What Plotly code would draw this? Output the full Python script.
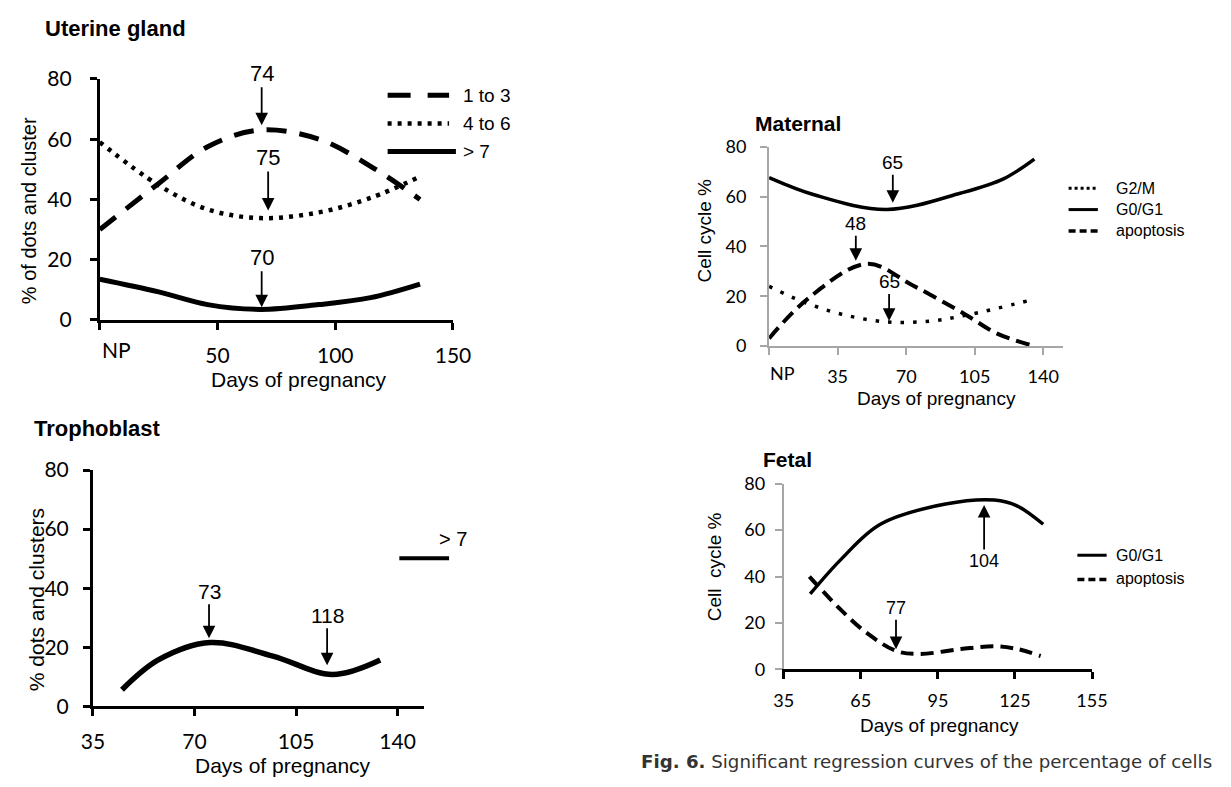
import plotly.graph_objects as go

W, H = 1231, 787

# ---------------- data ----------------
# Uterine gland (days, % of dots and cluster)
ug_days = [0, 25, 45.8, 68, 93, 115, 136]
ug_1to3 = [30, 45.3, 57.5, 63, 60, 51, 40]
ug_4to6 = [59, 44.7, 36.7, 33.8, 35.7, 40.5, 47.6]
ug_gt7 = [13.5, 9.3, 5.1, 3.5, 5.1, 7.4, 11.9]

# Trophoblast
tr_days = [45, 57.5, 75.4, 97, 117.6, 134]
tr_gt7 = [5.6, 15.7, 21.6, 17, 10.8, 15.7]

# Maternal
ma_g0g1_days = [0, 23.4, 60, 98, 120, 135.5]
ma_g0g1 = [67.6, 60.6, 54.8, 61.4, 67.2, 75]
ma_g2m_days = [0, 17, 37, 60, 83, 103, 133]
ma_g2m = [24, 17.9, 12.8, 9.7, 10.1, 12.8, 18.3]
ma_apo_days = [0, 20.4, 50, 73, 100, 116.5, 135.5]
ma_apo = [3.1, 19.4, 33, 24.5, 12.8, 5, 0]

# Fetal
fe_g0g1_days = [45.3, 57.4, 72.6, 98, 117, 125.8, 136]
fe_g0g1 = [32.5, 47.5, 62.5, 71.2, 72.9, 70.4, 62.5]
fe_apo_days = [45, 56.3, 67.7, 79, 88, 104, 117, 126, 135]
fe_apo = [40, 26.7, 15.4, 7.9, 6.7, 8.8, 10, 8.8, 5.8]

# peak / trough markers: (label, day, value)
ug_marks = [("74", 68.75, 64.6), ("75", 71.5, 36.3), ("70", 68.75, 4.2)]
tr_marks = [("73", 75.0, 23.0), ("118", 115.7, 13.9)]
ma_marks = [("65", 63.2, 57.5), ("48", 44.3, 34.2), ("65", 61.3, 10.1)]
fe_marks = [("104", 113.0, 70.8), ("77", 78.7, 8.75)]

y_ticks = [0, 20, 40, 60, 80]
ug_xticks = [0, 50, 100, 150]
tr_xticks = [35, 70, 105, 140]
ma_xticks = [0, 35, 70, 105, 140]
fe_xticks = [35, 65, 95, 125, 155]

# ---------------- helpers ----------------
def PX(x):
    return x / W

def PY(y):
    return 1 - y / H

TICKFONT_BIG = dict(family="Lato", size=21, color="black")
TICKFONT_SM = dict(family="Lato", size=18, color="black")
TXT = "Liberation Sans"

fig = go.Figure()

def line(x, y, xa, ya, width, dash="solid"):
    fig.add_trace(go.Scatter(
        x=x, y=y, xaxis=xa, yaxis=ya, mode="lines",
        line=dict(color="black", width=width, dash=dash, shape="spline", smoothing=1.0),
        showlegend=False, hoverinfo="skip", cliponaxis=False))

line(ug_days, ug_1to3, "x", "y", 5, "20px,13px")
line(ug_days, ug_4to6, "x", "y", 4.5, "4px,6px")
line(ug_days, ug_gt7, "x", "y", 5)

line(tr_days, tr_gt7, "x2", "y2", 5.5)

line(ma_g0g1_days, ma_g0g1, "x3", "y3", 3.5)
line(ma_g2m_days, ma_g2m, "x3", "y3", 3.5, "3.5px,9px")
line(ma_apo_days, ma_apo, "x3", "y3", 4, "14px,7px")

line(fe_g0g1_days, fe_g0g1, "x4", "y4", 3.5)
line(fe_apo_days, fe_apo, "x4", "y4", 4, "13px,7px")


def xaxis(domain, rng, tickvals, ticktext, font, color, lw, anchor, standoff):
    return dict(domain=[PX(domain[0]), PX(domain[1])], range=rng, anchor=anchor,
                tickvals=tickvals, ticktext=ticktext, tickfont=font,
                showline=True, linecolor=color, linewidth=lw, ticks="outside",
                ticklen=7, tickwidth=lw, tickcolor=color, showgrid=False, zeroline=False,
                ticklabelstandoff=standoff, fixedrange=True)


def yaxis(domain, anchor, font, color, lw, standoff):
    return dict(domain=[PY(domain[1]), PY(domain[0])], range=[0, 80], anchor=anchor,
                tickvals=y_ticks, tickfont=font,
                showline=True, linecolor=color, linewidth=lw, ticks="outside",
                ticklen=7, tickwidth=lw, tickcolor=color, showgrid=False, zeroline=False,
                ticklabelstandoff=standoff, fixedrange=True)

GRAY = "#a6a6a6"

fig.update_layout(
    width=W, height=H, margin=dict(l=0, r=0, t=0, b=0),
    paper_bgcolor="white", plot_bgcolor="white", showlegend=False,
    xaxis=xaxis((90, 452), [0, 150], ug_xticks, [""] + [str(v) for v in ug_xticks[1:]],
                TICKFONT_BIG, "black", 3, "y", 8),
    yaxis=yaxis((67, 316), "x", TICKFONT_BIG, "black", 3, 14),
    xaxis2=xaxis((83, 422), [35, 149], tr_xticks, [str(v) for v in tr_xticks],
                 TICKFONT_BIG, "black", 3, "y2", 8),
    yaxis2=yaxis((471, 715), "x2", TICKFONT_BIG, "black", 3, 10),
    xaxis3=xaxis((776, 1077), [0, 150], ma_xticks, [""] + [str(v) for v in ma_xticks[1:]],
                 TICKFONT_SM, GRAY, 2, "y3", 6),
    yaxis3=yaxis((137, 343), "x3", TICKFONT_SM, GRAY, 2, 10),
    xaxis4=xaxis((791, 1107), [35, 155], fe_xticks, [str(v) for v in fe_xticks],
                 TICKFONT_SM, "black", 3, "y4", 6),
    yaxis4=yaxis((485, 677), "x4", TICKFONT_SM, GRAY, 2, 6),
)
fig.layout.xaxis4.tickcolor = "black"

ann = []

def ptext(text, x, y, size, xanchor="center", bold=False, angle=0, color="black", family=TXT):
    ann.append(dict(text=("<b>%s</b>" % text) if bold else text, x=PX(x), y=PY(y),
                    xref="paper", yref="paper", xanchor=xanchor, yanchor="middle",
                    showarrow=False, textangle=angle,
                    font=dict(family=family, size=size, color=color)))

# titles
ptext("Uterine gland", 32, 15, 22, "left", True)
ptext("Trophoblast", 20, 428, 22, "left", True)
ptext("Maternal", 760, 113, 21, "left", True)
ptext("Fetal", 768, 460, 21, "left", True)

# axis titles
ptext("Days of pregnancy", 294, 378, 21)
ptext("% of dots and cluster", 17, 203, 20, angle=-90)
ptext("Days of pregnancy", 278, 776, 21)
ptext("% dots and clusters", 25, 605, 21, angle=-90)
ptext("Days of pregnancy", 948, 397, 19)
ptext("Cell cycle %", 710, 224, 19, angle=-90)
ptext("Days of pregnancy", 951, 735, 19)
ptext("Cell\u00a0 cycle %", 720, 571, 19, angle=-90)

# NP labels (shifted right of the tick, as in original)
ann.append(dict(text="NP", x=7, y=PY(346), xref="x", yref="paper", showarrow=False,
                font=dict(family="Lato", size=21, color="black"), yanchor="middle"))
ann.append(dict(text="NP", x=7, y=PY(371), xref="x3", yref="paper", showarrow=False,
                font=dict(family="Lato", size=18, color="black"), yanchor="middle"))

# legends (text)
ptext("1 to 3", 460, 84, 19, "left")
ptext("4 to 6", 460, 113, 19, "left")
ptext("> 7", 460, 142, 19, "left")
ptext("> 7", 452, 542, 20)
ptext("G2/M", 1130, 180, 16, "left")
ptext("G0/G1", 1130, 202, 16, "left")
ptext("apoptosis", 1130, 224, 16, "left")
ptext("G0/G1", 1130, 559, 16, "left")
ptext("apoptosis", 1130, 583, 16, "left")

# caption
ann.append(dict(text="<b>Fig. 6.</b> Significant regression curves of the percentage of cells",
                x=PX(643), y=PY(772), xref="paper", yref="paper", xanchor="left",
                yanchor="middle", showarrow=False,
                font=dict(family="DejaVu Sans", size=18.2, color="#333333")))

# arrows
def arrows(marks, xa, ya, offsets, size):
    for (lab, d, v), (dx, dy) in zip(marks, offsets):
        ann.append(dict(text=lab, x=d, y=v, xref=xa, yref=ya, ax=dx, ay=dy,
                        showarrow=True, arrowhead=2, arrowsize=1.4, arrowwidth=1.8,
                        arrowcolor="black", font=dict(family=TXT, size=size, color="black")))

arrows(ug_marks, "x", "y", [(0, -52), (0, -53), (0, -50)], 22)
arrows(tr_marks, "x2", "y2", [(0, -47), (0, -50)], 21)
arrows(ma_marks, "x3", "y3", [(0, -40), (0, -37), (0, -39)], 19)
arrows(fe_marks, "x4", "y4", [(0, 56), (0, -41)], 18)

fig.update_layout(annotations=ann)

# legend line samples
shapes = []

def sample(x0, x1, y, width, dash="solid"):
    shapes.append(dict(type="line", xref="paper", yref="paper", x0=PX(x0), x1=PX(x1),
                       y0=PY(y), y1=PY(y), line=dict(color="black", width=width, dash=dash)))

sample(385, 448, 84, 5, "23px,17px")
sample(385, 448, 113, 4.5, "4px,6px")
sample(385, 455, 142, 5)
sample(397, 448, 562, 4)
sample(1083, 1113, 180, 3, "3px,3px")
sample(1083, 1113, 202, 3)
sample(1083, 1113, 224, 3.5, "7px,4px")
sample(1092, 1122, 559, 3)
sample(1092, 1122, 584, 3.5, "7px,4px")

fig.update_layout(shapes=shapes)

fig.write_html("out.html", config={"displayModeBar": False},
               post_script="document.body.style.margin='0px';")
